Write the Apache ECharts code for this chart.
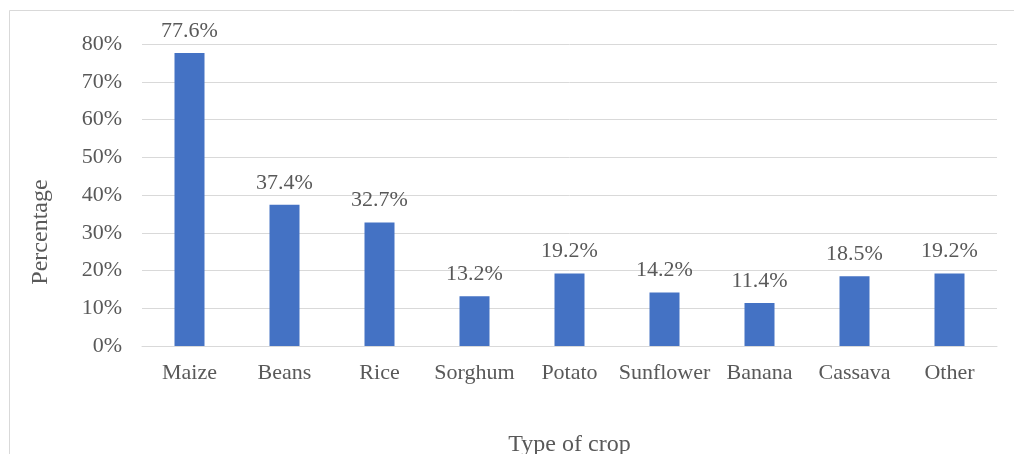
<!DOCTYPE html>
<html>
<head>
<meta charset="utf-8">
<style>
  html, body { margin: 0; padding: 0; background: #ffffff; }
  #chart { width: 1014px; height: 454px; }
</style>
<script src="https://cdn.jsdelivr.net/npm/echarts@6/dist/echarts.min.js"></script>
</head>
<body>
<div id="chart"></div>
<script>
// Share of households growing each crop type
const crops = ['Maize', 'Beans', 'Rice', 'Sorghum', 'Potato', 'Sunflower', 'Banana', 'Cassava', 'Other'];
const percentages = [77.6, 37.4, 32.7, 13.2, 19.2, 14.2, 11.4, 18.5, 19.2];
const yTicks = [0, 10, 20, 30, 40, 50, 60, 70, 80];

const serif = '"Liberation Serif", "Times New Roman", serif';
const textColor = '#595959';

const chart = echarts.init(document.getElementById('chart'), null, { renderer: 'canvas' });

chart.setOption({
  animation: false,
  backgroundColor: '#ffffff',
  graphic: [{
    type: 'rect',
    shape: { x: 9.5, y: 10.5, width: 1100, height: 600 },
    style: { fill: 'none', stroke: '#d9d9d9', lineWidth: 1 },
    silent: true,
    z: -10
  }],
  grid: {
    left: 142, right: 17, top: 44, bottom: 108,
    containLabel: false,
    outerBoundsMode: 'none'
  },
  xAxis: {
    type: 'category',
    data: crops,
    name: 'Type of crop',
    nameLocation: 'middle',
    nameGap: 87,
    nameTextStyle: { fontFamily: serif, fontSize: 24, color: textColor },
    axisLine: { show: true, lineStyle: { color: '#d9d9d9', width: 1 } },
    axisTick: { show: false },
    axisLabel: { fontFamily: serif, fontSize: 22, color: textColor, margin: 16, interval: 0 }
  },
  yAxis: {
    type: 'value',
    min: yTicks[0],
    max: yTicks[yTicks.length - 1],
    interval: 10,
    name: 'Percentage',
    nameLocation: 'middle',
    nameGap: 89,
    nameRotate: 90,
    // title sits a little below the middle of the plot
    nameTextStyle: { fontFamily: serif, fontSize: 24, color: textColor, padding: [0, 74, 0, 0] },
    axisLine: { show: false },
    axisTick: { show: false },
    axisLabel: {
      fontFamily: serif, fontSize: 22, color: textColor, margin: 20,
      formatter: v => v + '%'
    },
    splitLine: { show: true, lineStyle: { color: '#d9d9d9', width: 1 } }
  },
  series: [{
    type: 'bar',
    data: percentages,
    barWidth: 30,
    itemStyle: { color: '#4472C4' },
    label: {
      show: true,
      position: 'top',
      distance: 11,
      fontFamily: serif,
      fontSize: 22,
      color: textColor,
      formatter: p => p.value.toFixed(1) + '%'
    }
  }]
});
</script>
</body>
</html>
